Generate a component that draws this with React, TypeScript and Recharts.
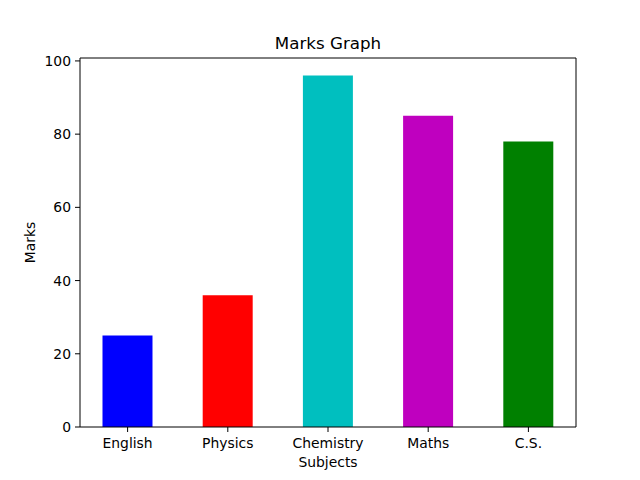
import React from 'react';
import { BarChart, Bar, XAxis, YAxis, Cell, Label, ReferenceLine } from 'recharts';

const subjects = ['English', 'Physics', 'Chemistry', 'Maths', 'C.S.'];
const marks = [25, 36, 96, 85, 78];
const colors = ['#0000ff', '#ff0000', '#00bfbf', '#bf00bf', '#008000'];
const yTicks = [0, 20, 40, 60, 80, 100];

const data = subjects.map((s, i) => ({ idx: i, name: s, marks: marks[i] }));

const FONT = 'DejaVu Sans, sans-serif';
const X_DOMAIN: [number, number] = [-0.475, 4.475];
const Y_DOMAIN: [number, number] = [0, 100.8];

export default function App() {
  return (
    <div style={{ position: 'absolute', left: 0, top: 0, width: 640, height: 480, background: '#fff' }}>
      <div
        style={{
          position: 'absolute',
          left: 80,
          width: 496,
          top: 33,
          textAlign: 'center',
          fontFamily: FONT,
          fontSize: 16.7,
          color: '#000',
          lineHeight: '20px',
        }}
      >
        Marks Graph
      </div>
      <BarChart
        width={640}
        height={480}
        data={data}
        margin={{ top: 58, right: 64, left: 0, bottom: 0 }}
        barSize={50}
      >
        <XAxis
          xAxisId="main"
          dataKey="idx"
          type="number"
          domain={X_DOMAIN}
          ticks={[0, 1, 2, 3, 4]}
          tickFormatter={(v: number) => subjects[v]}
          height={53}
          tickSize={5}
          tickMargin={6}
          stroke="#000"
          tick={{ fill: '#000', fontFamily: FONT, fontSize: 13.9 }}
          tickLine={{ stroke: '#000' }}
          axisLine={{ stroke: '#000' }}
          interval={0}
          allowDataOverflow
        >
          <Label
            content={(props: any) => {
              const vb = props.viewBox || {};
              return (
                <text
                  x={vb.x + vb.width / 2}
                  y={467}
                  textAnchor="middle"
                  fontFamily={FONT}
                  fontSize={13.9}
                  fill="#000"
                >
                  Subjects
                </text>
              );
            }}
          />
        </XAxis>
        <YAxis
          yAxisId="main"
          type="number"
          domain={Y_DOMAIN}
          ticks={yTicks}
          width={80}
          tickSize={5}
          tickMargin={4}
          stroke="#000"
          tick={{ fill: '#000', fontFamily: FONT, fontSize: 13.9 }}
          tickLine={{ stroke: '#000' }}
          axisLine={{ stroke: '#000' }}
          interval={0}
          allowDataOverflow
        >
          <Label
            content={(props: any) => {
              const vb = props.viewBox || {};
              const cy = vb.y + vb.height / 2;
              return (
                <text
                  x={35}
                  y={cy}
                  transform={`rotate(-90 35 ${cy})`}
                  textAnchor="middle"
                  fontFamily={FONT}
                  fontSize={13.9}
                  fill="#000"
                >
                  Marks
                </text>
              );
            }}
          />
        </YAxis>
        <Bar dataKey="marks" xAxisId="main" yAxisId="main" isAnimationActive={false}>
          {data.map((d, i) => (
            <Cell key={d.name} fill={colors[i]} />
          ))}
        </Bar>
        <ReferenceLine xAxisId="main" yAxisId="main" y={Y_DOMAIN[1]} stroke="#000" ifOverflow="visible" />
        <ReferenceLine xAxisId="main" yAxisId="main" x={X_DOMAIN[1]} stroke="#000" ifOverflow="visible" />
      </BarChart>
    </div>
  );
}
